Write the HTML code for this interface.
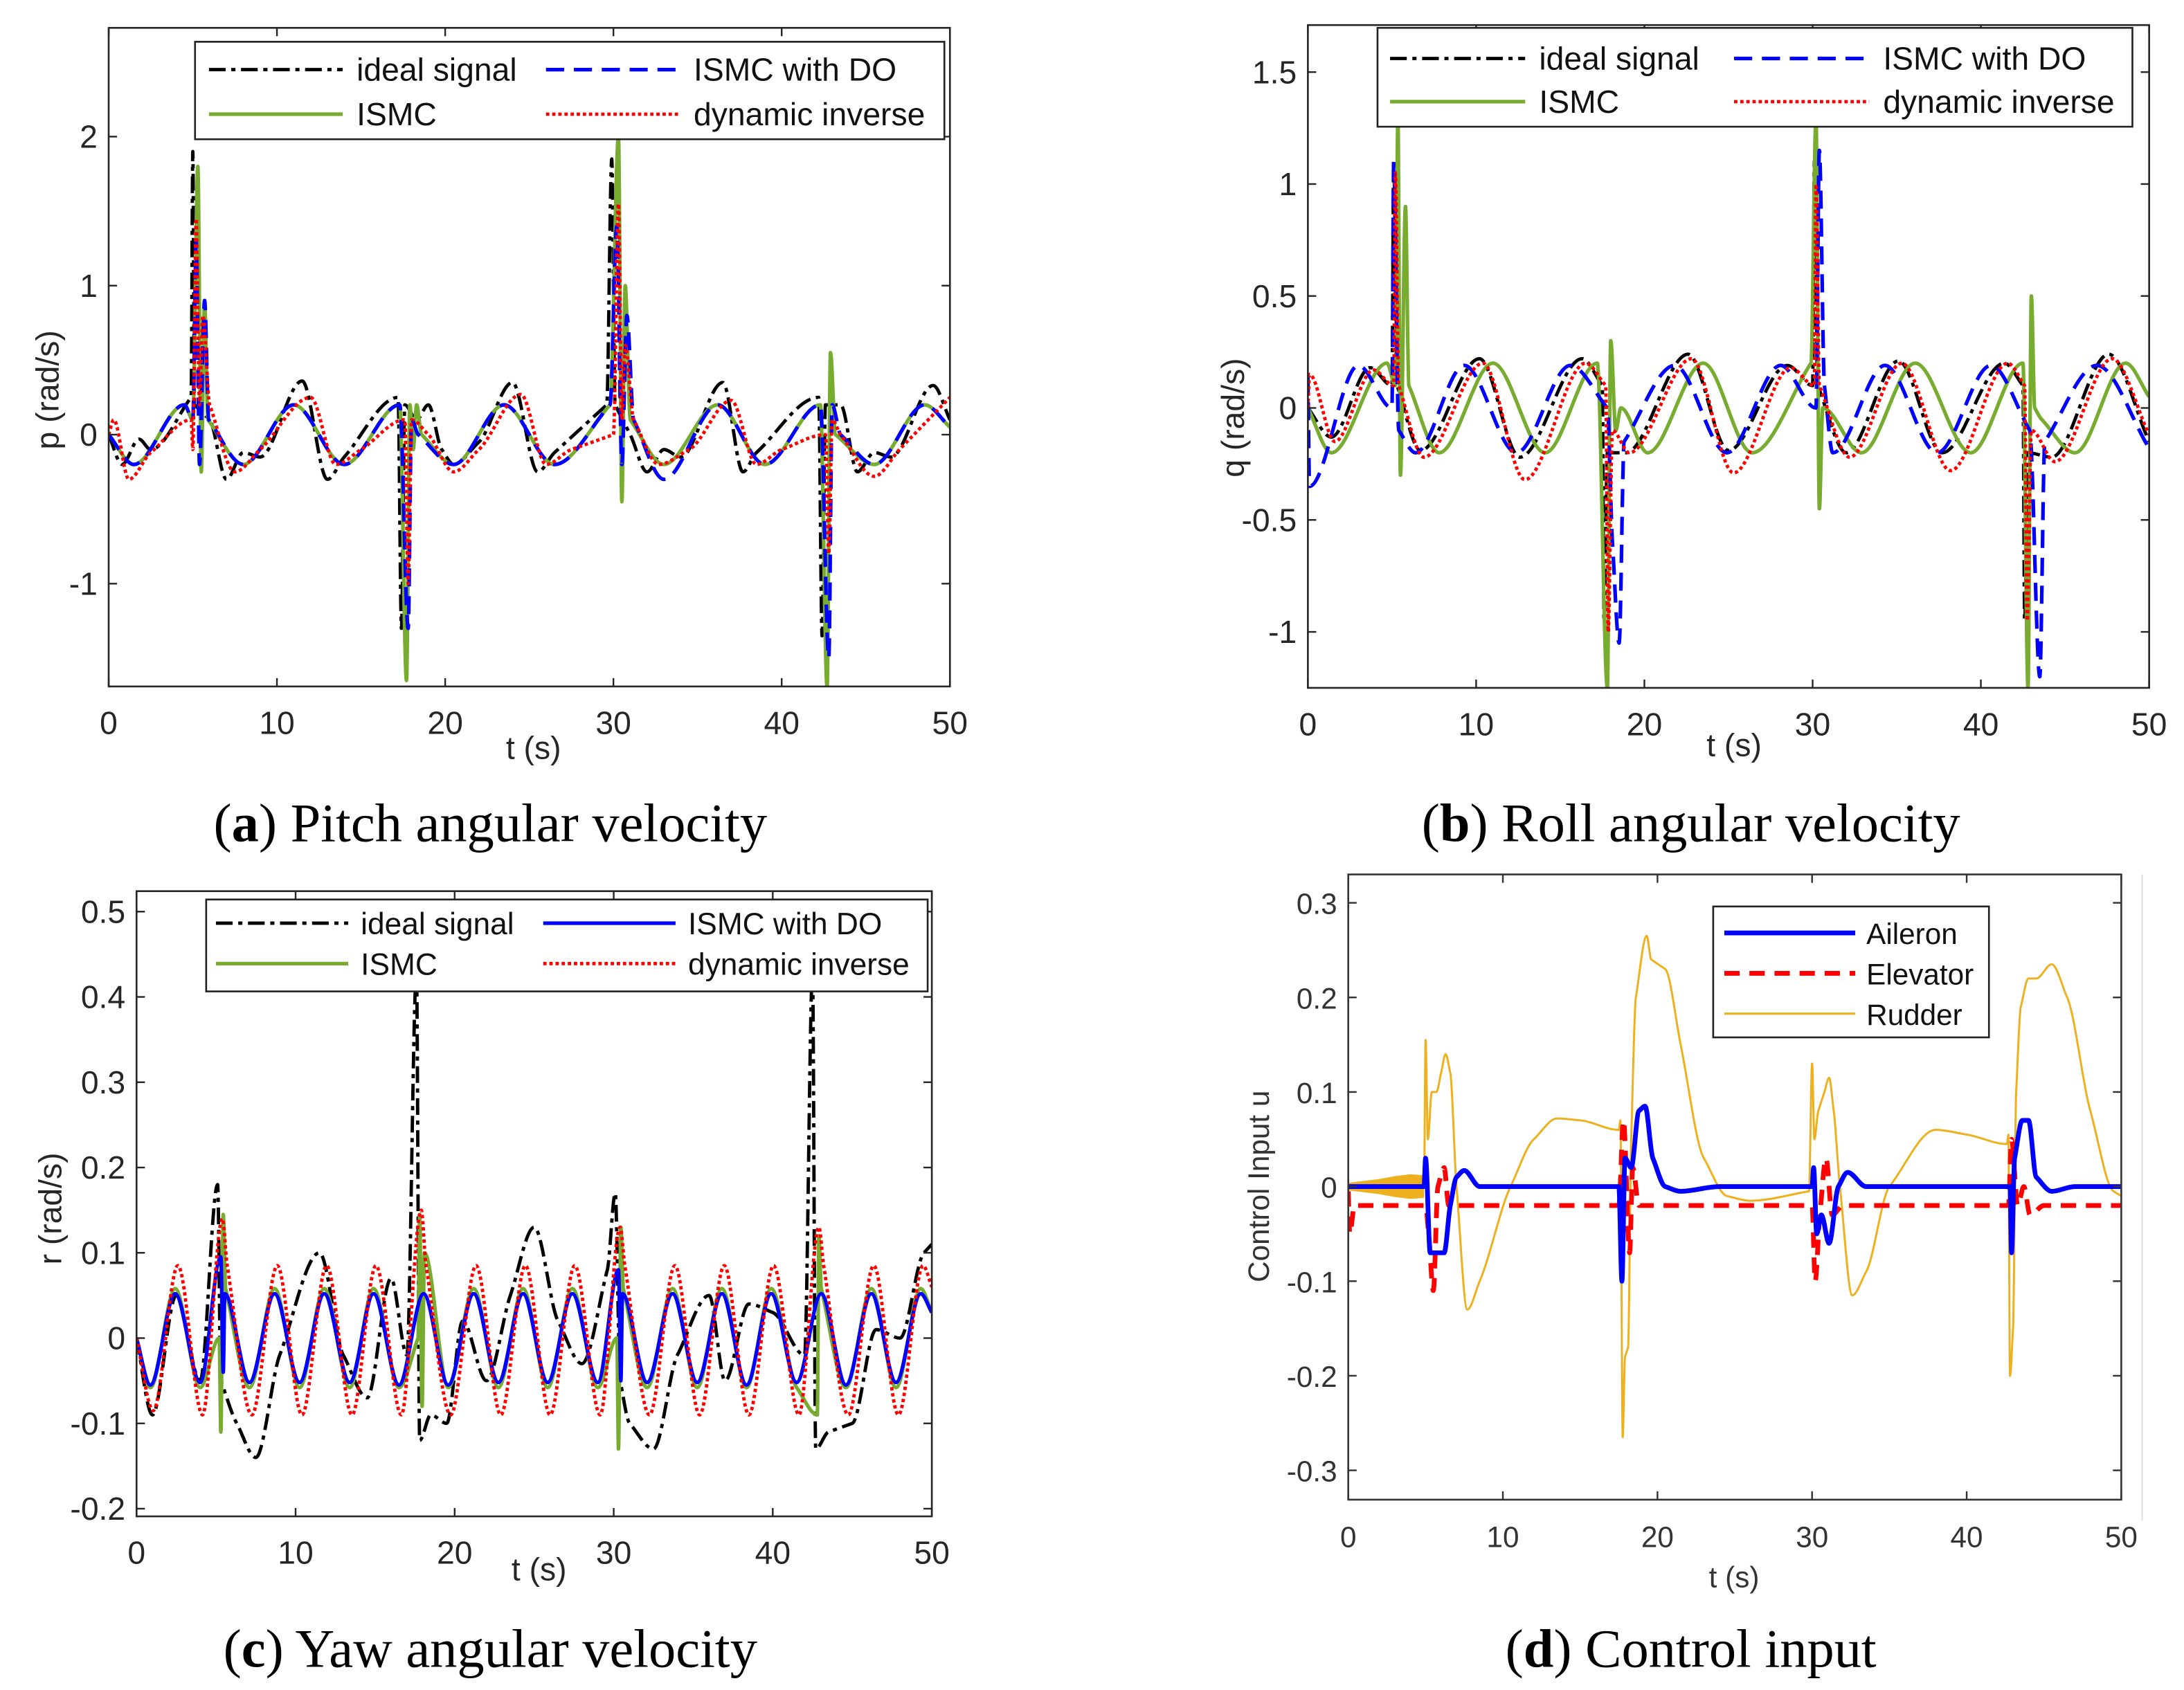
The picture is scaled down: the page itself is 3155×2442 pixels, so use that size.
<!DOCTYPE html>
<html><head><meta charset="utf-8">
<style>
html,body{margin:0;padding:0;background:#fff;}
svg{display:block;}
</style></head>
<body>
<svg id="fig" xmlns="http://www.w3.org/2000/svg" width="3155" height="2442" viewBox="0 0 1568 1213.7">
<rect x="0" y="0" width="1568" height="1213.7" fill="#fff"/>
</svg>
<script>
// ---------- shared ticks ----------
const xTicks = [0,10,20,30,40,50];
const yTicksA = [-1,0,1,2];
const yTicksB = [-1,-0.5,0,0.5,1,1.5];
const yTicksC = [-0.2,-0.1,0,0.1,0.2,0.3,0.4,0.5];
const yTicksD = [-0.3,-0.2,-0.1,0,0.1,0.2,0.3];

// ---------- panel a: p (rad/s) ----------
const tA_ideal = [0,0.8,1.8,2.5,4.9,5.0,5.1,6,7,8,9,11.5,13,14,17.2,17.4,17.6,18.3,19,19.8,20.5,22,24,25.5,26.5,29.6,29.9,30.1,31,32,33,34,36.5,37.7,38.5,42.2,42.4,42.6,43.5,44.5,45.5,46.5,49,50];
const vA_ideal = [0,-0.2,-0.03,-0.1,0.25,1.9,0.2,0.1,-0.3,-0.12,-0.15,0.36,-0.3,-0.15,0.25,-1.3,0.2,0.1,0.2,-0.1,-0.2,-0.05,0.35,-0.25,-0.12,0.2,1.85,0.2,0,-0.25,-0.1,-0.15,0.35,-0.25,-0.12,0.25,-1.35,0.2,0.2,-0.25,-0.12,-0.15,0.33,0.1];
const tA_ismc = [0,1.5,4.5,5.0,5.3,5.5,5.7,5.9,8,11,14,17.3,17.7,17.9,18.1,18.3,18.6,20.5,23.5,26.5,29.8,30.3,30.5,30.7,31,33,36.2,39,42.3,42.7,42.9,43.2,45.5,48.5,50];
const vA_ismc = [0,-0.2,0.2,0.1,1.8,-0.25,0.9,0.1,-0.2,0.2,-0.2,0.2,-1.65,0.2,-0.1,0.2,0.0,-0.2,0.2,-0.2,0.2,2.0,-0.45,1.0,0.1,-0.2,0.2,-0.2,0.2,-1.7,0.55,0.0,-0.2,0.2,0.05];
const tA_do = [0,1.5,4.5,5.0,5.2,5.4,5.7,5.95,8,11,14,17.3,17.8,18.0,18.4,20.5,23.5,26.5,29.8,30.2,30.5,30.8,31.2,33,36.2,39,42.3,42.8,43.0,43.5,45.5,48.5,50];
const vA_do = [0,-0.2,0.2,0.1,1.3,-0.2,0.9,0.1,-0.2,0.2,-0.2,0.2,-1.3,0.1,0.0,-0.2,0.2,-0.2,0.2,1.4,-0.2,0.8,0.1,-0.3,0.2,-0.2,0.2,-1.5,0.2,0.0,-0.2,0.2,0.05];
const tA_di = [0,0.3,1.2,2.5,4.9,5.0,5.2,5.4,5.6,6,7.5,9,12,13.5,15,17.6,17.8,18,19,20.5,22,24.5,26,27.5,30.0,30.3,30.5,30.7,31.2,32.7,34.5,37,38.5,40,42.6,42.8,43,43.5,45.5,47,50];
const vA_di = [0,0.1,-0.3,-0.12,0.1,-0.1,1.45,0.2,0.8,0.2,-0.25,-0.1,0.25,-0.2,-0.1,0.1,-1.0,0.1,0.0,-0.25,-0.1,0.27,-0.2,-0.1,0.0,1.55,0.1,0.6,0.1,-0.2,-0.1,0.23,-0.2,-0.1,0.0,-0.8,0.1,0.0,-0.28,-0.1,0.25];

// ---------- panel b: q (rad/s) ----------
const tB_ideal = [0,1.4,3.7,5.0,5.1,5.3,6.7,10.2,12.6,16.3,17.5,17.6,17.8,18.9,22.6,25,28.5,30.0,30.1,30.3,32,35.1,37.7,41.4,42.5,42.6,42.8,44.2,47.6,50];
const vB_ideal = [0,-0.13,0.18,0.1,1.1,0.1,-0.19,0.22,-0.22,0.22,0.1,-0.95,-0.2,-0.2,0.24,-0.19,0.19,0.1,1.1,0.1,-0.2,0.21,-0.2,0.2,0.1,-0.95,-0.2,-0.22,0.24,-0.15];
const tB_ismc = [0,1.4,4.7,5.2,5.35,5.5,5.8,6.0,7.8,11.0,14.1,17.2,17.8,18.0,18.3,18.6,20.2,23.5,26.4,29.9,30.2,30.4,30.6,32.9,36.1,39.4,42.5,42.8,43.0,43.2,43.6,45.6,48.6,50];
const vB_ismc = [0,-0.2,0.2,0.1,1.3,-0.3,0.9,0.1,-0.2,0.2,-0.2,0.2,-1.25,0.3,-0.1,0.0,-0.2,0.2,-0.2,0.2,1.3,-0.45,0.0,-0.2,0.2,-0.2,0.2,-1.25,0.5,0.0,-0.05,-0.2,0.2,0.05];
const tB_do = [0,0.1,3.0,5.0,5.1,5.4,6.4,9.3,12.4,15.6,17.8,18.1,18.5,18.8,21.8,24.9,28.1,30.2,30.4,30.7,31.2,34.3,37.4,40.6,42.9,43.5,43.8,46.9,50];
const vB_do = [0.15,-0.35,0.19,0.0,1.1,-0.1,-0.2,0.19,-0.2,0.19,0.0,-0.6,-1.05,-0.15,0.19,-0.2,0.19,0.0,1.15,0.1,-0.2,0.19,-0.2,0.19,-0.1,-1.2,-0.15,0.19,-0.18];
const tB_di = [0,0.1,1.6,3.9,5.1,5.2,5.4,6.9,10.4,12.9,16.5,17.7,17.85,18.1,19.1,22.8,25.3,28.7,30.1,30.2,30.4,32.2,35.3,38.2,41.6,42.6,42.75,43.0,44.4,47.8,50];
const vB_di = [0,0.15,-0.15,0.17,0.1,1.05,0.1,-0.22,0.2,-0.32,0.2,0.1,-1.0,-0.1,-0.2,0.22,-0.29,0.18,0.1,1.0,0.1,-0.22,0.2,-0.28,0.2,0.1,-0.95,-0.1,-0.24,0.22,-0.12];

// ---------- panel c: r (rad/s) ----------
const tC_ideal = [0,1,2.5,4,5.1,5.3,6.3,7.5,9,11.5,13,14.5,16,17,17.6,17.8,18.5,19.5,20.5,22,23.5,25,26.5,28,29.6,30.1,30.4,31,32.5,34,36,37,38.5,40,42,42.5,42.7,43.5,45,46.5,48,49.5,50];
const vC_ideal = [0,-0.09,0.05,-0.05,0.18,-0.05,-0.1,-0.14,-0.02,0.1,-0.02,-0.07,0.07,-0.02,0.43,-0.12,-0.09,-0.1,0.02,-0.05,0.05,0.13,0.02,-0.03,0.08,0.17,-0.05,-0.1,-0.13,-0.02,0.05,-0.05,0.04,0.03,-0.02,0.43,-0.13,-0.11,-0.1,0.01,0.0,0.1,0.11];
const tC_ismc = [0,0.87,2.43,4.0,5.2,5.3,5.45,5.6,7.1,8.68,10.25,11.8,13.4,14.9,16.5,17.7,17.8,17.95,18.1,19.6,21.2,22.75,24.3,25.85,27.4,29.0,30.2,30.3,30.45,30.6,32.1,33.7,35.25,36.8,38.35,39.9,41.5,42.8,42.9,43.05,44.6,46.2,47.75,49.3,50];
const vC_ismc = [0,-0.058,0.058,-0.058,0.0,-0.11,0.145,0.058,-0.058,0.058,-0.058,0.058,-0.058,0.058,-0.058,0.0,0.145,-0.08,0.1,-0.058,0.058,-0.058,0.058,-0.058,0.058,-0.058,0.0,-0.13,0.13,0.058,-0.058,0.058,-0.058,0.058,-0.058,0.058,-0.058,-0.09,0.12,0.058,-0.058,0.058,-0.058,0.058,0.03];
const tC_do = [0,0.87,2.43,4.0,5.3,5.45,5.55,7.1,8.68,10.25,11.8,13.4,14.9,16.5,18.05,19.6,21.2,22.75,24.3,25.85,27.4,29.0,30.3,30.45,30.55,32.1,33.7,35.25,36.8,38.35,39.9,41.5,43.05,44.6,46.2,47.75,49.3,50];
const vC_do = [0,-0.055,0.052,-0.052,0.095,-0.04,0.052,-0.052,0.052,-0.052,0.052,-0.052,0.052,-0.055,0.052,-0.055,0.052,-0.052,0.052,-0.052,0.052,-0.052,0.08,-0.05,0.052,-0.052,0.052,-0.052,0.052,-0.055,0.052,-0.052,0.052,-0.055,0.052,-0.052,0.052,0.03];
const tC_di = [0,1.05,2.6,4.15,5.4,5.7,7.25,8.85,10.4,11.95,13.55,15.05,16.65,17.9,18.2,19.75,21.35,22.9,24.45,26.0,27.55,29.15,30.4,30.7,32.25,33.85,35.4,36.95,38.5,40.05,41.65,42.9,43.2,44.75,46.35,47.9,49.45,50];
const vC_di = [0,-0.085,0.085,-0.09,0.14,0.085,-0.09,0.085,-0.09,0.085,-0.09,0.085,-0.09,0.15,0.085,-0.09,0.085,-0.09,0.085,-0.09,0.085,-0.09,0.13,0.085,-0.09,0.085,-0.09,0.085,-0.09,0.085,-0.09,0.13,0.085,-0.09,0.085,-0.09,0.085,0.06];

// ---------- panel d: control input u ----------
const tD_ail = [0,4.9,5,5.3,6.2,6.6,7.0,7.5,8.5,17.5,17.7,17.9,18.3,18.8,19.2,19.7,20.5,21.5,24,30.0,30.1,30.3,30.6,31.1,31.7,32.3,33.5,42.8,42.9,43.1,43.6,44.0,44.5,45.5,47,50];
const vD_ail = [0,0,0.03,-0.07,-0.07,-0.02,0.01,0.017,0.0,0,-0.1,0.03,0.02,0.08,0.085,0.03,0.0,-0.005,0.0,0.0,0.02,-0.05,-0.03,-0.06,0.0,0.015,0.0,0,-0.07,0.03,0.07,0.07,0.01,-0.005,0,0];
const tD_ele = [0,0.1,0.4,5,5.2,5.5,5.8,6.2,6.5,7,17.5,17.8,18.2,18.4,18.8,19.5,30.0,30.2,30.5,30.9,31.3,32,42.7,42.9,43.3,43.7,44.1,45,50];
const vD_ele = [-0.005,-0.05,-0.02,-0.02,-0.05,-0.11,0.0,0.02,-0.02,-0.02,-0.02,0.07,-0.07,0.02,-0.02,-0.02,-0.02,-0.1,-0.03,0.03,-0.03,-0.02,-0.02,0.05,-0.02,0.0,-0.03,-0.02,-0.02];
const tD_rud = [0,4.9,5.0,5.15,5.4,5.7,6.0,6.3,6.6,7.0,7.7,8.5,10.5,12,13.5,15,17.5,17.6,17.75,17.9,18.1,18.3,18.6,19.3,19.6,20.5,21.5,23,24.5,26,29.8,30.0,30.15,30.4,30.8,31.1,31.4,31.8,32.6,33.5,35,38,40,42.6,42.7,42.8,43.0,43.2,43.5,44,44.5,45.5,46.5,48,49.5,50];
const vD_rud = [0,0,0.155,0.05,0.1,0.1,0.12,0.14,0.12,0.0,-0.13,-0.1,0.0,0.05,0.072,0.07,0.06,0.07,-0.265,-0.18,-0.17,0.05,0.2,0.265,0.24,0.23,0.15,0.03,-0.01,-0.015,-0.005,0.13,0.05,0.08,0.1,0.115,0.08,0.0,-0.115,-0.09,0.0,0.06,0.055,0.045,0.055,-0.2,-0.15,0.1,0.19,0.22,0.22,0.235,0.2,0.08,-0.005,-0.01];
const tD_env = [0,1,2,3,4,4.9];
const vD_env = [0.004,0.006,0.008,0.011,0.013,0.012];

// ---------- drawing ----------
const NS = "http://www.w3.org/2000/svg";
const svg = document.getElementById('fig');
function mk(tag, attrs, parent){
  const e = document.createElementNS(NS, tag);
  for (const k in attrs) e.setAttribute(k, attrs[k]);
  (parent||svg).appendChild(e);
  return e;
}
function monoPath(pts){
  const n = pts.length; if (n<2) return '';
  const s = [], m = [];
  for (let i=0;i<n-1;i++){ const h = pts[i+1][0]-pts[i][0]; s.push(h===0?0:(pts[i+1][1]-pts[i][1])/h); }
  for (let i=0;i<n;i++){
    if (i===0) m.push(s[0]); else if (i===n-1) m.push(s[n-2]);
    else { const a=s[i-1], b=s[i]; m.push(a*b<=0?0:(Math.sign(a))*Math.min(Math.abs(a),Math.abs(b),Math.abs((a+b)/2)*1.5)); }
  }
  let d = 'M'+pts[0][0].toFixed(2)+','+pts[0][1].toFixed(2);
  for (let i=0;i<n-1;i++){
    const dx = (pts[i+1][0]-pts[i][0])/3;
    d += 'C'+(pts[i][0]+dx).toFixed(2)+','+(pts[i][1]+dx*m[i]).toFixed(2)+' '+(pts[i+1][0]-dx).toFixed(2)+','+(pts[i+1][1]-dx*m[i+1]).toFixed(2)+' '+pts[i+1][0].toFixed(2)+','+pts[i+1][1].toFixed(2);
  }
  return d;
}
function makePanel(cfg){
  const g = mk('g', {});
  
  
  const xs = t => cfg.x0 + (t-0)/50*(cfg.x1-cfg.x0);
  const ys = v => cfg.y1 - (v-cfg.ymin)/(cfg.ymax-cfg.ymin)*(cfg.y1-cfg.y0);
  const clipId = cfg.name+'-clip';
  const cp = mk('clipPath', {id: clipId}, g);
  mk('rect', {x:cfg.x0, y:cfg.y0, width:cfg.x1-cfg.x0, height:cfg.y1-cfg.y0}, cp);
  const plot = mk('g', {'clip-path':'url(#'+clipId+')'}, g);
  
  
  cfg.series.forEach(sr => {
    if (sr.env){
      let pts = sr.t.map((t,i)=>xs(t)+','+ys(sr.v[i]));
      let pts2 = sr.t.map((t,i)=>xs(t)+','+ys(-sr.v[i])).reverse();
      const poly = mk('polygon', {points: pts.concat(pts2).join(' '), fill: sr.color}, plot);
      
      
      return;
    }
    const pts = sr.t.map((t,i)=>[xs(t), ys(sr.v[i])]);
    const p = mk('path', {d: monoPath(pts), fill:'none', stroke: sr.color, 'stroke-width': sr.w, 'stroke-dasharray': sr.dash||'none', 'stroke-linejoin':'round'}, plot);
    
    
  });
  const fr = mk('rect', {x:cfg.x0, y:cfg.y0, width:cfg.x1-cfg.x0, height:cfg.y1-cfg.y0, fill:'none', stroke:cfg.frame, 'stroke-width':1.3}, g);
  
  
  const tickFont = '"Liberation Sans", Arial, sans-serif';
  xTicks.forEach(t => {
    const x = xs(t);
    mk('line', {x1:x, y1:cfg.y1, x2:x, y2:cfg.y1-6, stroke:cfg.frame, 'stroke-width':1.2}, g);
    mk('line', {x1:x, y1:cfg.y0, x2:x, y2:cfg.y0+6, stroke:cfg.frame, 'stroke-width':1.2}, g);
    const tx = mk('text', {x:x, y:cfg.y1+34, 'text-anchor':'middle', 'font-family':tickFont, 'font-size':cfg.fs, fill:cfg.tcol}, g);
    tx.textContent = t;
    
    
  });
  cfg.yTicks.forEach(v => {
    const y = ys(v);
    mk('line', {x1:cfg.x0, y1:y, x2:cfg.x0+6, y2:y, stroke:cfg.frame, 'stroke-width':1.2}, g);
    mk('line', {x1:cfg.x1, y1:y, x2:cfg.x1-6, y2:y, stroke:cfg.frame, 'stroke-width':1.2}, g);
    const ty = mk('text', {x:cfg.x0-8, y:y+8, 'text-anchor':'end', 'font-family':tickFont, 'font-size':cfg.fs, fill:cfg.tcol}, g);
    ty.textContent = v;
    
    
  });
  const xl = mk('text', {x:cfg.xl[0], y:cfg.xl[1], 'text-anchor':'middle', 'font-family':tickFont, 'font-size':cfg.fs, fill:cfg.tcol}, g);
  xl.textContent = 't (s)';
  
  
  const yl = mk('text', {x:0, y:0, transform:'translate('+cfg.yl[0]+','+cfg.yl[1]+') rotate(-90)', 'text-anchor':'middle', 'font-family':tickFont, 'font-size':cfg.fs, fill:cfg.tcol}, g);
  yl.textContent = cfg.ylabel;
  
  
  const L = cfg.legend;
  const lg = mk('g', {}, g);
  
  
  mk('rect', {x:L.x, y:L.y, width:L.w, height:L.h, fill:'#fff', stroke:'#222', 'stroke-width':1.3}, lg);
  L.items.forEach(it => {
    const sr = cfg.series[it.s];
    const e = mk('g', {}, lg);
    
    
    mk('line', {x1:it.lx, y1:it.y, x2:it.lx+L.sw, y2:it.y, stroke:sr.color, 'stroke-width':sr.lw||sr.w, 'stroke-dasharray':sr.dash||'none'}, e);
    const t = mk('text', {x:it.lx+L.sw+L.gap, y:it.y+8, 'font-family':tickFont, 'font-size':L.fs, fill:'#111'}, e);
    t.textContent = sr.label;
  });
  const cap = mk('text', {x:cfg.cap[0], y:cfg.cap[1], 'text-anchor':'middle', 'font-family':'"Liberation Serif", serif', 'font-size':39, fill:'#000'});
  
  
  const b = mk('tspan', {}, cap); b.textContent = '(';
  const bb = mk('tspan', {'font-weight':'bold'}, cap); bb.textContent = cfg.capLetter;
  const rest = mk('tspan', {}, cap); rest.textContent = ') ' + cfg.capText;
}

const BLK = '#000', GRN = '#77AC30', BLU = '#0000FF', RED = '#FF0000';
const dDash = '12 4 3 4', bDash = '13 7', rDot = '2.4 2';

makePanel({name:'panel-a-pitch', x0:78, x1:682, y0:20, y1:493, ymin:-1.69, ymax:2.73, yTicks:yTicksA, fs:23, frame:'#262626', tcol:'#262626',
  ylabel:'p (rad/s)', yl:[42,280], xl:[383,545], cap:[352,604], capLetter:'a', capText:'Pitch angular velocity',
  series:[
    {name:'ideal-signal-line', label:'ideal signal', t:tA_ideal, v:vA_ideal, color:BLK, w:2.4, dash:dDash},
    {name:'ismc-line', label:'ISMC', t:tA_ismc, v:vA_ismc, color:GRN, w:2.6},
    {name:'ismc-do-line', label:'ISMC with DO', t:tA_do, v:vA_do, color:BLU, w:2.6, dash:bDash},
    {name:'dynamic-inverse-line', label:'dynamic inverse', t:tA_di, v:vA_di, color:RED, w:2.4, dash:rDot}],
  legend:{x:140, y:30, w:538, h:70, sw:96, gap:10, fs:23, items:[{s:0,lx:150,y:50},{s:2,lx:392,y:50},{s:1,lx:150,y:82},{s:3,lx:392,y:82}]}
});
makePanel({name:'panel-b-roll', x0:939, x1:1543, y0:18, y1:494, ymin:-1.25, ymax:1.71, yTicks:yTicksB, fs:23, frame:'#262626', tcol:'#262626',
  ylabel:'q (rad/s)', yl:[893,300], xl:[1245,543], cap:[1214,604], capLetter:'b', capText:'Roll angular velocity',
  series:[
    {name:'ideal-signal-line', label:'ideal signal', t:tB_ideal, v:vB_ideal, color:BLK, w:2.4, dash:dDash},
    {name:'ismc-line', label:'ISMC', t:tB_ismc, v:vB_ismc, color:GRN, w:2.6},
    {name:'ismc-do-line', label:'ISMC with DO', t:tB_do, v:vB_do, color:BLU, w:2.6, dash:bDash},
    {name:'dynamic-inverse-line', label:'dynamic inverse', t:tB_di, v:vB_di, color:RED, w:2.4, dash:rDot}],
  legend:{x:989, y:20, w:542, h:71, sw:97, gap:10, fs:23, items:[{s:0,lx:998,y:42},{s:2,lx:1245,y:42},{s:1,lx:998,y:73},{s:3,lx:1245,y:73}]}
});
makePanel({name:'panel-c-yaw', x0:98, x1:669, y0:640, y1:1089, ymin:-0.209, ymax:0.524, yTicks:yTicksC, fs:23, frame:'#262626', tcol:'#262626',
  ylabel:'r (rad/s)', yl:[44,868], xl:[387,1135], cap:[352,1197], capLetter:'c', capText:'Yaw angular velocity',
  series:[
    {name:'ideal-signal-line', label:'ideal signal', t:tC_ideal, v:vC_ideal, color:BLK, w:2.4, dash:dDash},
    {name:'ismc-line', label:'ISMC', t:tC_ismc, v:vC_ismc, color:GRN, w:2.6},
    {name:'ismc-do-line', label:'ISMC with DO', t:tC_do, v:vC_do, color:BLU, w:2.6},
    {name:'dynamic-inverse-line', label:'dynamic inverse', t:tC_di, v:vC_di, color:RED, w:2.4, dash:rDot}],
  legend:{x:148, y:646, w:518, h:66, sw:95, gap:9, fs:22, items:[{s:0,lx:155,y:663},{s:2,lx:390,y:663},{s:1,lx:155,y:692},{s:3,lx:390,y:692}]}
});
makePanel({name:'panel-d-control', x0:968, x1:1523, y0:628, y1:1077, ymin:-0.331, ymax:0.33, yTicks:yTicksD, fs:21, frame:'#333', tcol:'#333',
  ylabel:'Control Input u', yl:[911,852], xl:[1245,1140], cap:[1214,1197], capLetter:'d', capText:'Control input',
  series:[
    {name:'rudder-envelope', env:true, t:tD_env, v:vD_env, color:'#EDB120'},
    {name:'rudder-line', label:'Rudder', t:tD_rud, v:vD_rud, color:'#EDB120', w:1.5, lw:1.6},
    {name:'elevator-line', label:'Elevator', t:tD_ele, v:vD_ele, color:RED, w:3.4, dash:'11 7'},
    {name:'aileron-line', label:'Aileron', t:tD_ail, v:vD_ail, color:BLU, w:3.4}],
  legend:{x:1230, y:651, w:198, h:94, sw:94, gap:8, fs:21, items:[{s:3,lx:1238,y:670},{s:2,lx:1238,y:699},{s:1,lx:1238,y:728}]}
});
const fl = mk('line', {x1:1538, y1:628, x2:1538, y2:1092, stroke:'#ddd', 'stroke-width':1});


</script>
</body></html>
